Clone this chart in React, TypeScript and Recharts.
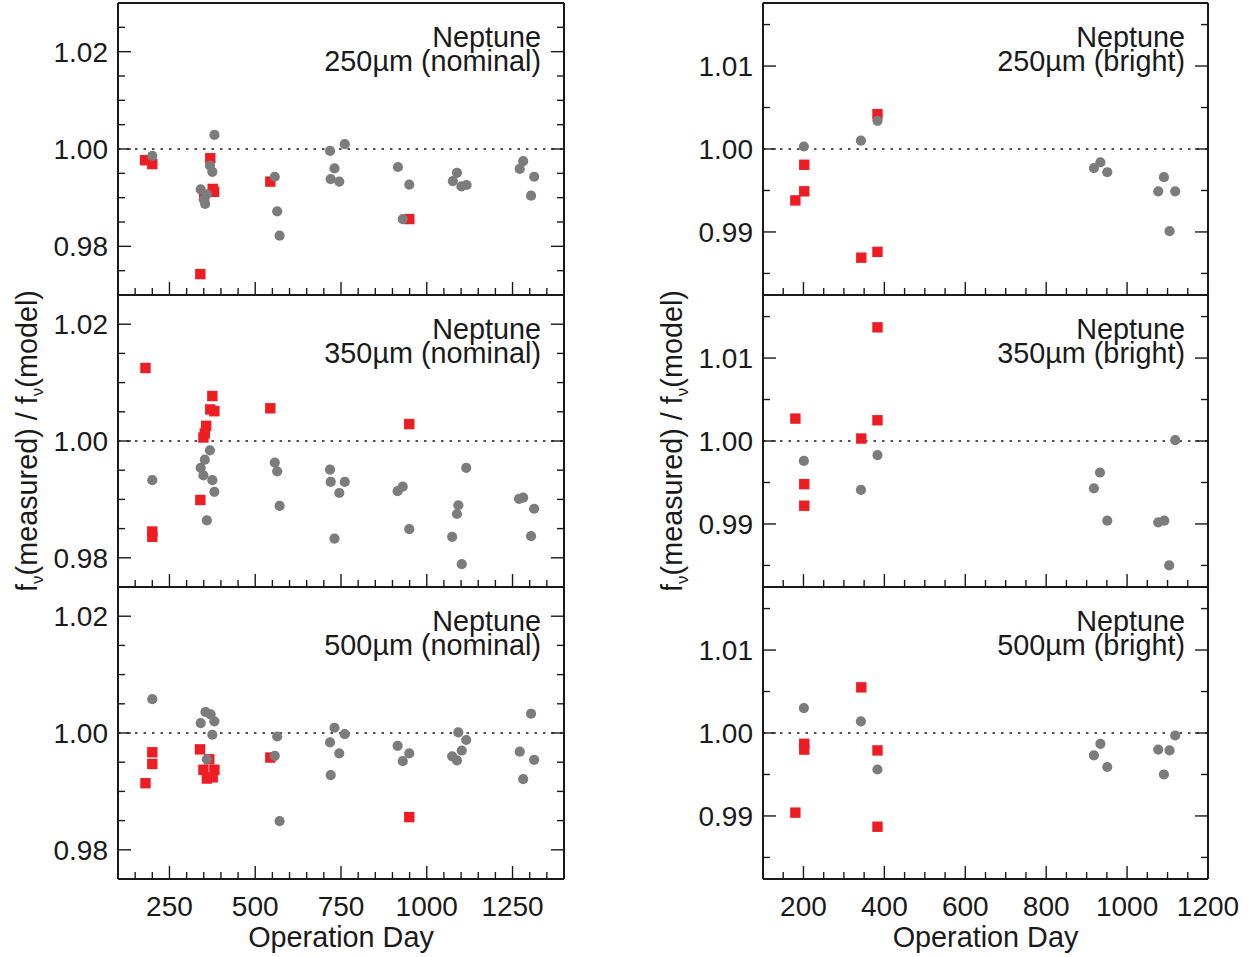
import React from "react";
import { ReferenceLine, Scatter, ScatterChart, XAxis, YAxis } from "recharts";

const RED = "#ee1d24";
const GREY = "#7c7c7c";
const INK = "#1a1a1a";
const FONT = "'Liberation Sans', Arial, Helvetica, sans-serif";

// [operation day, f(measured) / f(model)]
const nom250Red = [
  [179, 0.9977], [200, 0.9969], [369, 0.9981], [376, 0.9918], [380, 0.9912],
  [351, 0.9903], [544, 0.9933], [949, 0.9856], [340, 0.9743],
];
const nom250Grey = [
  [200, 0.9986], [381, 1.0029], [368, 0.9966], [375, 0.9953], [341, 0.9917],
  [359, 0.9907], [350, 0.9896], [354, 0.9887], [557, 0.9943], [564, 0.9872],
  [571, 0.9822], [718, 0.9996], [761, 1.001], [731, 0.996], [720, 0.9938],
  [745, 0.9933], [916, 0.9963], [949, 0.9927], [930, 0.9856], [1088, 0.9951],
  [1076, 0.9934], [1101, 0.9923], [1116, 0.9926], [1281, 0.9975], [1271, 0.9959],
  [1313, 0.9943], [1304, 0.9904],
];
const nom350Red = [
  [180, 1.0125], [375, 1.0077], [369, 1.0054], [381, 1.0051], [357, 1.0026],
  [353, 1.0013], [349, 1.0006], [544, 1.0056], [949, 1.0029], [340, 0.9899],
  [200, 0.9845], [200, 0.9836],
];
const nom350Grey = [
  [200, 0.9933], [368, 0.9984], [353, 0.9968], [341, 0.9954], [349, 0.9941],
  [375, 0.9933], [381, 0.9913], [359, 0.9864], [557, 0.9963], [564, 0.9948],
  [571, 0.9889], [718, 0.9951], [720, 0.993], [761, 0.993], [745, 0.9911],
  [731, 0.9833], [915, 0.9914], [930, 0.9922], [949, 0.9849], [1115, 0.9954],
  [1092, 0.989], [1088, 0.9875], [1074, 0.9836], [1102, 0.9789], [1269, 0.9901],
  [1281, 0.9903], [1313, 0.9884], [1304, 0.9837],
];
const nom500Red = [
  [200, 0.9967], [200, 0.9947], [180, 0.9914], [339, 0.9972], [366, 0.9955],
  [349, 0.9937], [381, 0.9937], [359, 0.9922], [376, 0.9924], [544, 0.9958],
  [949, 0.9856],
];
const nom500Grey = [
  [200, 1.0058], [355, 1.0036], [370, 1.0032], [341, 1.0017], [381, 1.002],
  [375, 0.9997], [359, 0.9955], [564, 0.9994], [557, 0.9961], [571, 0.9849],
  [731, 1.0009], [761, 0.9998], [718, 0.9984], [745, 0.9965], [720, 0.9928],
  [915, 0.9978], [949, 0.9965], [930, 0.9952], [1092, 1.0001], [1115, 0.9988],
  [1102, 0.997], [1074, 0.996], [1088, 0.9953], [1304, 1.0033], [1271, 0.9968],
  [1313, 0.9954], [1281, 0.9921],
];
const bri250Red = [
  [180, 0.9938], [202, 0.9949], [202, 0.9981], [383, 1.0042], [343, 0.9869],
  [383, 0.9876],
];
const bri250Grey = [
  [201, 1.0003], [342, 1.001], [383, 1.0034], [918, 0.9977], [934, 0.9984],
  [951, 0.9972], [1091, 0.9966], [1077, 0.9949], [1119, 0.9949], [1105, 0.9901],
];
const bri350Red = [
  [180, 1.0027], [383, 1.0137], [383, 1.0025], [343, 1.0003], [202, 0.9948],
  [202, 0.9922],
];
const bri350Grey = [
  [201, 0.9976], [342, 0.9941], [383, 0.9983], [933, 0.9962], [918, 0.9943],
  [951, 0.9904], [1077, 0.9902], [1092, 0.9904], [1119, 1.0001], [1104, 0.985],
];
const bri500Red = [
  [343, 1.0055], [202, 0.9987], [202, 0.998], [383, 0.9979], [180, 0.9904],
  [383, 0.9887],
];
const bri500Grey = [
  [201, 1.003], [342, 1.0014], [383, 0.9956], [1119, 0.9997], [934, 0.9987],
  [918, 0.9973], [951, 0.9959], [1077, 0.998], [1105, 0.9979], [1091, 0.995],
];

const nomDayTicks = [150, 200, 250, 300, 350, 400, 450, 500, 550, 600, 650, 700, 750, 800, 850, 900, 950, 1000, 1050, 1100, 1150, 1200, 1250, 1300, 1350];
const nomDayMajor = [250, 500, 750, 1000, 1250];
const briDayTicks = [150, 200, 250, 300, 350, 400, 450, 500, 550, 600, 650, 700, 750, 800, 850, 900, 950, 1000, 1050, 1100, 1150, 1200];
const briDayMajor = [200, 400, 600, 800, 1000, 1200];
const nomTopRatioTicks = [0.975, 0.98, 0.985, 0.99, 0.995, 1.0, 1.005, 1.01, 1.015, 1.02, 1.025];
const nomRatioTicks = [0.98, 0.985, 0.99, 0.995, 1.0, 1.005, 1.01, 1.015, 1.02];
const nomRatioMajor = [0.98, 1.0, 1.02];
const briRatioTicks = [0.985, 0.99, 0.995, 1.0, 1.005, 1.01, 1.015];
const briRatioMajor = [0.99, 1.0, 1.01];

const toPts = (pairs: number[][]) => pairs.map(([day, ratio]) => ({ day, ratio }));

type Side = "left" | "right" | "top" | "bottom";

function makeTick(side: Side, major: number[], digits: number | null) {
  return (props: any) => {
    const { x, y, payload } = props;
    const v = payload.value;
    const isMajor = major.some((m) => Math.abs(m - v) < 1e-9);
    const len = isMajor ? 13 : 7;
    let x2 = x;
    let y2 = y;
    if (side === "left") x2 = x + len;
    if (side === "right") x2 = x - len;
    if (side === "top") y2 = y + len;
    if (side === "bottom") y2 = y - len;
    let label = null;
    if (digits !== null && isMajor) {
      const txt = v.toFixed(digits);
      label =
        side === "left" ? (
          <text x={x - 10} y={y + 10} textAnchor="end" fontFamily={FONT} fontSize={28} fill={INK}>
            {txt}
          </text>
        ) : (
          <text x={x} y={y + 37} textAnchor="middle" fontFamily={FONT} fontSize={28} fill={INK}>
            {txt}
          </text>
        );
    }
    return (
      <g>
        <line x1={x} y1={y} x2={x2} y2={y2} stroke={INK} strokeWidth={1.4} />
        {label}
      </g>
    );
  };
}

const panelLabel = (name: string, band: string) => (props: any) => {
  const vb = props.viewBox;
  const rx = vb.x + vb.width - 23;
  const top = vb.y + vb.height;
  return (
    <g>
      <text x={rx} y={top + 44} textAnchor="end" fontFamily={FONT} fontSize={28.8} fill={INK}>
        {name}
      </text>
      <text x={rx} y={top + 68} textAnchor="end" fontFamily={FONT} fontSize={28.8} fill={INK}>
        {band}
      </text>
    </g>
  );
};

const ratioTitle = (props: any) => {
  const vb = props.viewBox;
  const cx = vb.x + 37;
  const cy = vb.y + vb.height / 2;
  return (
    <text
      x={cx}
      y={cy}
      transform={`rotate(-90 ${cx} ${cy})`}
      textAnchor="middle"
      fontFamily={FONT}
      fontSize={28.8}
      fill={INK}
    >
      f<tspan fontSize={17} dy={6}>ν</tspan>
      <tspan dy={-6}>(measured) / f</tspan>
      <tspan fontSize={17} dy={6}>ν</tspan>
      <tspan dy={-6}>(model)</tspan>
    </text>
  );
};

const dayTitle = (props: any) => {
  const vb = props.viewBox;
  return (
    <text x={vb.x + vb.width / 2} y={vb.y + 68} textAnchor="middle" fontFamily={FONT} fontSize={28.8} fill={INK}>
      Operation Day
    </text>
  );
};

const square = (p: any) => <rect x={p.cx - 5.2} y={p.cy - 5.2} width={10.4} height={10.4} fill={RED} />;
const dot = (p: any) => <circle cx={p.cx} cy={p.cy} r={5.1} fill={GREY} />;

type PanelSpec = {
  col: number;
  row: number;
  band: string;
  red: number[][];
  grey: number[][];
};

const panels: PanelSpec[] = [
  { col: 0, row: 0, band: "250µm (nominal)", red: nom250Red, grey: nom250Grey },
  { col: 0, row: 1, band: "350µm (nominal)", red: nom350Red, grey: nom350Grey },
  { col: 0, row: 2, band: "500µm (nominal)", red: nom500Red, grey: nom500Grey },
  { col: 1, row: 0, band: "250µm (bright)", red: bri250Red, grey: bri250Grey },
  { col: 1, row: 1, band: "350µm (bright)", red: bri350Red, grey: bri350Grey },
  { col: 1, row: 2, band: "500µm (bright)", red: bri500Red, grey: bri500Grey },
];

const axisLine = { stroke: INK, strokeWidth: 2 };

function Panel({ spec }: { spec: PanelSpec }) {
  const nominal = spec.col === 0;
  const last = spec.row === 2;
  const plotW = nominal ? 446 : 445;
  const plotH = 292;
  const left = nominal ? 0 : 645;
  const top = spec.row * plotH;
  const dayDomain = nominal ? [100, 1400] : [100, 1200];
  const dayTicks = nominal ? nomDayTicks : briDayTicks;
  const dayMajor = nominal ? nomDayMajor : briDayMajor;
  const ratioDomain = nominal
    ? spec.row === 0
      ? [0.97, 1.03]
      : [0.975, 1.025]
    : [0.9824, 1.0176];
  const ratioTicks = nominal ? (spec.row === 0 ? nomTopRatioTicks : nomRatioTicks) : briRatioTicks;
  const ratioMajor = nominal ? nomRatioMajor : briRatioMajor;
  const bottomH = last ? 75 : 1;
  const width = 118 + plotW + 2 + 45;
  const height = 3 + plotH + bottomH + (last ? 3 : 2);

  return (
    <div style={{ position: "absolute", left, top }}>
      <ScatterChart
        width={width}
        height={height}
        margin={{ top: 2, right: 45, bottom: last ? 3 : 2, left: 0 }}
      >
        <XAxis
          xAxisId="b"
          type="number"
          dataKey="day"
          domain={dayDomain}
          allowDataOverflow
          ticks={dayTicks}
          interval={0}
          tickSize={0}
          tickMargin={0}
          tickLine={false}
          axisLine={axisLine}
          tick={makeTick("bottom", dayMajor, last ? 0 : null)}
          height={bottomH}
          label={last ? { content: dayTitle } : undefined}
        />
        <XAxis
          xAxisId="t"
          orientation="top"
          type="number"
          domain={dayDomain}
          allowDataOverflow
          ticks={dayTicks}
          interval={0}
          tickSize={0}
          tickMargin={0}
          tickLine={false}
          axisLine={axisLine}
          tick={makeTick("top", dayMajor, null)}
          height={1}
          label={{ content: panelLabel("Neptune", spec.band) }}
        />
        <YAxis
          yAxisId="l"
          type="number"
          dataKey="ratio"
          domain={ratioDomain}
          allowDataOverflow
          ticks={ratioTicks}
          interval={0}
          tickSize={0}
          tickMargin={0}
          tickLine={false}
          axisLine={axisLine}
          tick={makeTick("left", ratioMajor, 2)}
          width={118}
          label={spec.row === 1 ? { content: ratioTitle } : undefined}
        />
        <YAxis
          yAxisId="r"
          orientation="right"
          type="number"
          domain={ratioDomain}
          allowDataOverflow
          ticks={ratioTicks}
          interval={0}
          tickSize={0}
          tickMargin={0}
          tickLine={false}
          axisLine={axisLine}
          tick={makeTick("right", ratioMajor, null)}
          width={2}
        />
        <ReferenceLine
          xAxisId="b"
          yAxisId="l"
          y={1}
          stroke={INK}
          strokeWidth={1.5}
          strokeDasharray="2.5 6"
        />
        <Scatter
          xAxisId="b"
          yAxisId="l"
          data={toPts(spec.red)}
          shape={square}
          isAnimationActive={false}
        />
        <Scatter
          xAxisId="b"
          yAxisId="l"
          data={toPts(spec.grey)}
          shape={dot}
          isAnimationActive={false}
        />
      </ScatterChart>
    </div>
  );
}

export default function App() {
  return (
    <div
      style={{
        position: "absolute",
        left: 0,
        top: 0,
        width: 1254,
        height: 957,
        background: "#fff",
      }}
    >
      {panels.map((p) => (
        <Panel key={`${p.col}-${p.row}`} spec={p} />
      ))}
    </div>
  );
}
